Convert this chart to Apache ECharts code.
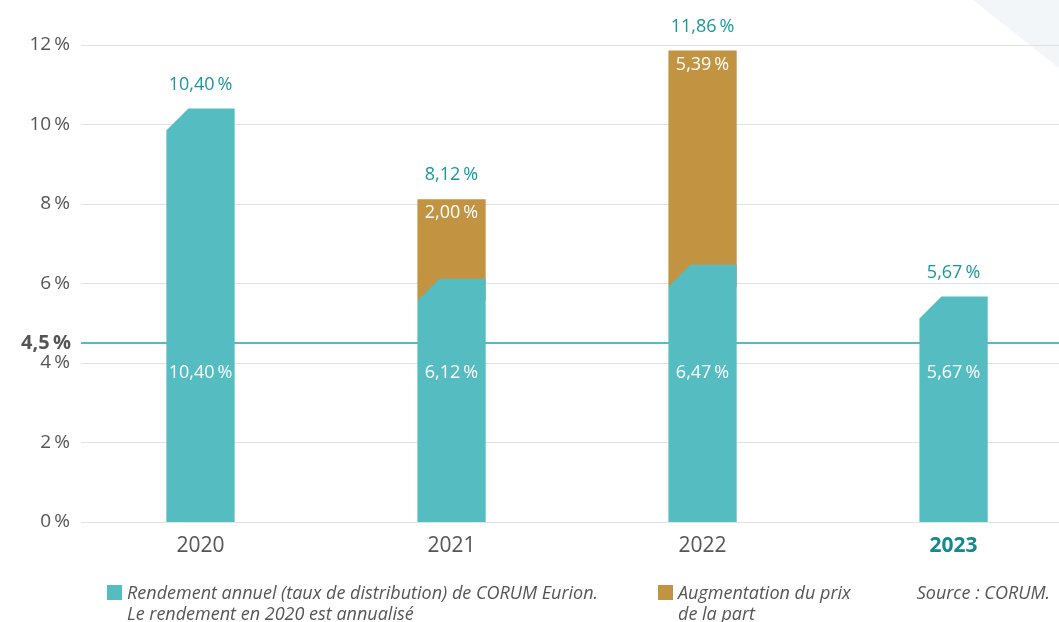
<!DOCTYPE html>
<html>
<head>
<meta charset="utf-8">
<script src="https://cdn.jsdelivr.net/npm/echarts@6/dist/echarts.min.js"></script>
<style>
  html, body { margin: 0; background: #fff; }
  #chart { width: 1059px; height: 622px; }
</style>
</head>
<body>
<div id="chart"></div>
<script>
// donnees
const annees = ['2020', '2021', '2022', '2023'];
const rendement = [10.40, 6.12, 6.47, 5.67];      // taux de distribution
const augmentation = [0, 2.00, 5.39, 0];          // augmentation du prix de la part
const seuil = 4.5;
const yMin = 0, yMax = 12, yStep = 2;

const TEAL = '#55bcc2';
const TEAL_TXT = '#1a979d';
const GOLD = '#c29442';
const GREY = '#555555';
const FONT = '"Open Sans", sans-serif';

const fmt = v => v.toFixed(2).replace('.', ',') + '\u2009%';

function renderBar(params, api) {
  const i = api.value(0);
  const r = api.value(1);
  const a = api.value(2);
  const base = api.coord([i, 0]);
  const x = base[0], y0 = base[1];
  const y1 = api.coord([i, r])[1];
  const y2 = api.coord([i, r + a])[1];
  const w = api.size([1, 0])[0] * 0.272;
  const xl = x - w / 2, xr = x + w / 2;
  const cut = 22;
  const last = i === annees.length - 1;
  const children = [];
  if (a > 0) {
    children.push({
      type: 'rect',
      shape: { x: xl, y: y2, width: w, height: y1 + cut - y2 },
      style: { fill: GOLD }
    });
    children.push({
      type: 'text',
      style: { text: fmt(a), x: x, y: y2 + 14, align: 'center', verticalAlign: 'middle',
               fill: '#fff', font: '18px ' + FONT }
    });
  }
  children.push({
    type: 'polygon',
    shape: { points: [[xl, y0], [xl, y1 + cut], [xl + cut, y1], [xr, y1], [xr, y0]] },
    style: { fill: TEAL }
  });
  children.push({
    type: 'text',
    style: { text: fmt(r), x: x, y: y0 - 149, align: 'center', verticalAlign: 'middle',
             fill: '#fff', font: '18px ' + FONT }
  });
  children.push({
    type: 'text',
    style: { text: fmt(r + a), x: x, y: y2 - 24, align: 'center', verticalAlign: 'middle',
             fill: TEAL_TXT, font: '18px ' + FONT }
  });
  // libelle de l'annee sous l'axe
  children.push({
    type: 'text',
    style: { text: annees[i], x: x, y: y0 + 24, align: 'center', verticalAlign: 'middle',
             fill: last ? '#12898f' : GREY,
             font: (last ? 'bold ' : '') + '21px ' + FONT }
  });
  return { type: 'group', children: children };
}

const chart = echarts.init(document.getElementById('chart'));
chart.setOption({
  animation: false,
  backgroundColor: '#fff',
  textStyle: { fontFamily: FONT },
  grid: [
    { left: 81, right: 0, top: 45, bottom: 100 },       // lignes de grille
    { left: 75, right: 0, top: 45, bottom: 100 }        // barres
  ],
  xAxis: [
    { type: 'value', gridIndex: 0, show: false, min: 0, max: 1 },
    { type: 'value', gridIndex: 1, show: false, min: -0.5, max: 3.42 }
  ],
  yAxis: [
    {
      type: 'value', gridIndex: 0, min: yMin, max: yMax, interval: yStep,
      axisLine: { show: false },
      axisTick: { show: false },
      axisLabel: { color: GREY, fontSize: 19, margin: 11, formatter: v => v + '\u2009%' },
      splitLine: { lineStyle: { color: '#e2e2e2', width: 1 } }
    },
    { type: 'value', gridIndex: 1, min: yMin, max: yMax, show: false }
  ],
  graphic: [
    { type: 'polygon', z: -10, shape: { points: [[973, 0], [1059, 0], [1059, 68]] },
      style: { fill: '#f3f6f8' } },
    { type: 'rect', shape: { x: 107, y: 585, width: 15, height: 15 }, style: { fill: TEAL } },
    { type: 'text', style: { x: 127, y: 583, text: 'Rendement annuel (taux de distribution) de CORUM Eurion.\nLe rendement en 2020 est annualisé',
        fill: GREY, font: 'italic 18px ' + FONT, lineHeight: 21 } },
    { type: 'rect', shape: { x: 658, y: 585, width: 15, height: 15 }, style: { fill: GOLD } },
    { type: 'text', style: { x: 678, y: 583, text: 'Augmentation du prix\nde la part',
        fill: GREY, font: 'italic 18px ' + FONT, lineHeight: 21 } },
    { type: 'text', style: { x: 1050, y: 583, align: 'right', text: 'Source : CORUM.',
        fill: GREY, font: 'italic 18px ' + FONT, lineHeight: 21 } }
  ],
  series: [
    {
      type: 'line', xAxisIndex: 0, yAxisIndex: 0, data: [], z: 1,
      markLine: {
        silent: true, symbol: 'none',
        lineStyle: { color: TEAL, width: 2, type: 'solid' },
        label: { position: 'start', distance: 10, color: GREY, fontSize: 20, fontWeight: 'bold',
                 formatter: () => String(seuil).replace('.', ',') + '\u2009%' },
        data: [{ yAxis: seuil }]
      }
    },
    {
      type: 'custom', xAxisIndex: 1, yAxisIndex: 1, z: 3,
      data: annees.map((a, i) => [i, rendement[i], augmentation[i]]),
      renderItem: renderBar
    }
  ]
});
</script>
</body>
</html>
